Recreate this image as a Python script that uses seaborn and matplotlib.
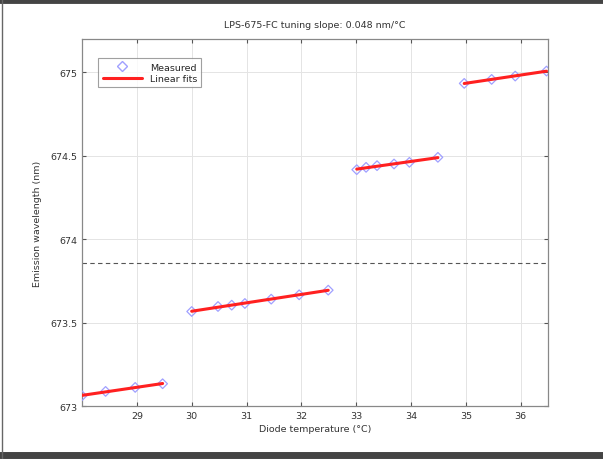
import numpy as np
import pandas as pd
import matplotlib.pyplot as plt
from matplotlib.lines import Line2D
import seaborn as sns

# Measured points, one group per laser mode
temp_1 = [28.0, 28.43, 28.97, 29.47]
wl_1 = [673.062, 673.088, 673.112, 673.134]
temp_2 = [30.0, 30.48, 30.73, 30.97, 31.45, 31.96, 32.49]
wl_2 = [673.567, 673.597, 673.605, 673.615, 673.641, 673.667, 673.695]
temp_3 = [33.01, 33.18, 33.38, 33.69, 33.97, 34.49]
wl_3 = [674.417, 674.431, 674.441, 674.451, 674.461, 674.491]
temp_4 = [34.97, 35.47, 35.9, 36.47]
wl_4 = [674.934, 674.958, 674.978, 675.008]
ref_level = 673.86

xticks = [29, 30, 31, 32, 33, 34, 35, 36]
yticks = [673, 673.5, 674, 674.5, 675]

frames = []
for g, (t, w) in enumerate([(temp_1, wl_1), (temp_2, wl_2), (temp_3, wl_3), (temp_4, wl_4)]):
    frames.append(pd.DataFrame({'temp': t, 'wl': w, 'group': g}))
df = pd.concat(frames, ignore_index=True)

sns.set_style("ticks")
plt.rcParams['font.family'] = ['DejaVu Sans']
plt.rcParams['font.size'] = 6.5

fig = plt.figure(figsize=(6.03, 4.6), dpi=100)
ax = fig.add_axes([0.136, 0.115, 0.773, 0.798])

# reference level
ax.axhline(ref_level, color='#555555', lw=0.8, ls=(0, (4, 3)), zorder=1)

sns.scatterplot(data=df, x='temp', y='wl', ax=ax, marker='D', s=24,
                facecolor='none', edgecolor='#a0a0ff', linewidth=0.9, zorder=3)

# linear fits per group
for g, sub in df.groupby('group'):
    sns.regplot(data=sub, x='temp', y='wl', ax=ax, scatter=False, ci=None,
                truncate=True, line_kws=dict(color='#ff2020', lw=2.2, zorder=4))

ax.set_xlim(28, 36.5)
ax.set_ylim(673, 675.2)
ax.set_xticks(xticks)
ax.set_xticklabels([str(v) for v in xticks])
ax.set_yticks(yticks)
ax.set_yticklabels(['673', '673.5', '674', '674.5', '675'])
ax.grid(True, color='#e4e4e4', lw=0.7)
ax.set_axisbelow(True)
ax.tick_params(direction='in', length=3, top=True, right=True, colors='#555555',
               labelcolor='#333333', labelsize=6.8)
for s in ax.spines.values():
    s.set_visible(True)
    s.set_color('#888888')
    s.set_linewidth(0.9)

ax.set_xlabel('Diode temperature (°C)', fontsize=6.8, color='#333333', labelpad=3)
ax.set_ylabel('Emission wavelength (nm)', fontsize=6.8, color='#333333', labelpad=6)
ax.set_title('LPS-675-FC tuning slope: 0.048 nm/°C', fontsize=6.8, color='#333333', pad=9)

handles = [Line2D([], [], marker='D', ls='none', markerfacecolor='none',
                  markeredgecolor='#a0a0ff', markersize=5),
           Line2D([], [], color='#ff2020', lw=2.2)]
leg = ax.legend(handles, ['Measured', 'Linear fits'], loc='upper left',
                bbox_to_anchor=(0.025, 0.96), fontsize=6.8, frameon=True,
                fancybox=False, handlelength=4.2, borderpad=0.45, labelspacing=0.25)
leg.get_frame().set_edgecolor('#888888')
leg.get_frame().set_linewidth(0.8)

# page border around the figure
fig.add_artist(Line2D([0, 1], [0.995, 0.995], transform=fig.transFigure, color='#444444', lw=3.5))
fig.add_artist(Line2D([0, 1], [0.008, 0.008], transform=fig.transFigure, color='#444444', lw=5))
fig.add_artist(Line2D([0.004, 0.004], [0, 1], transform=fig.transFigure, color='#666666', lw=1))

fig.savefig('out.png', dpi=100)
